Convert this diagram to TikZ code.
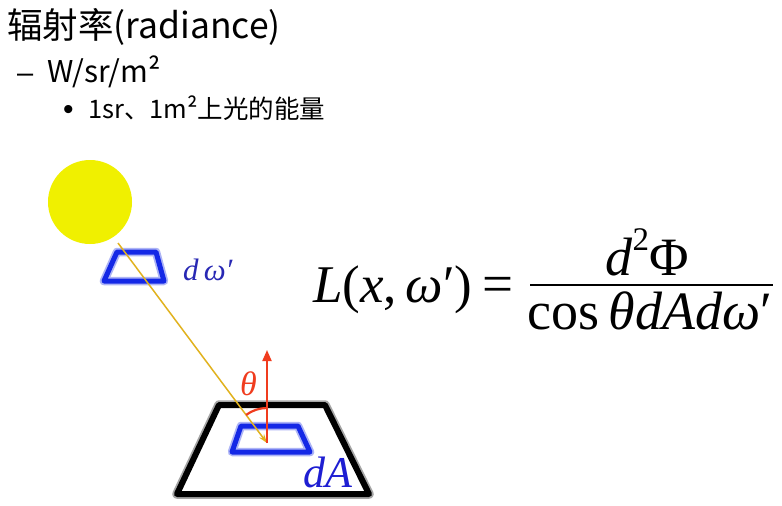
\documentclass[tikz,border=0pt]{standalone}
\usepackage{fontspec}
\setmainfont{Liberation Serif}
\newfontfamily\cjk{Noto Sans CJK SC}
\newfontfamily\bulletfont{Liberation Sans}
\usetikzlibrary{arrows.meta}
\definecolor{sunyellow}{RGB}{240,240,0}
\definecolor{rayc}{RGB}{225,178,30}
\definecolor{blueedge}{RGB}{20,40,230}
\definecolor{labelblue}{RGB}{40,40,180}
\definecolor{dablue}{RGB}{30,30,210}
\definecolor{redc}{RGB}{240,60,30}
\begin{document}
\begin{tikzpicture}[x=1pt,y=-1pt,
  txt/.style={inner sep=0pt, anchor=base west},
  bluequad/.style={draw=blueedge, line width=5pt, line join=round,
    preaction={draw=blueedge!35, line width=8.5pt, line join=round}},
  blackquad/.style={draw=black, line width=6pt, line join=round, fill=white,
    preaction={draw=black!35, line width=9.5pt, line join=round}},
  fml/.style={inner sep=0pt, font=\fontsize{54}{60}\selectfont}]
\useasboundingbox (0,0) rectangle (782,506);
\fill[white] (0,0) rectangle (782,506);

% text
\node[txt, font=\cjk\fontsize{35.5}{38}\selectfont] (title) at (7,38) {辐射率(radiance)};
\node[txt, font=\bulletfont\fontsize{29}{32}\selectfont] (dash) at (17,82) {–};
\node[txt, font=\cjk\fontsize{30}{32}\selectfont] (unit) at (47,82) {W/sr/m²};
\node[txt, font=\bulletfont\fontsize{30}{32}\selectfont] (bullet) at (63,119) {•};
\node[txt, font=\cjk\fontsize{25.5}{28}\selectfont] (desc) at (88,118) {1sr、1m²上光的能量};

% sun
\node[circle, fill=sunyellow, minimum size=84pt, inner sep=0pt] (sun) at (90,202) {};

% d omega patch
\draw[bluequad] (117,252) -- (156,252) -- (164,281) -- (104,281) -- cycle;
\node[txt, font=\fontsize{31}{33}\selectfont\itshape, text=labelblue] (domega) at (183,280) {d\,ω′};

% surface
\draw[blackquad] (219,405) -- (325,405) -- (369,494) -- (177,494) -- cycle;
\draw[bluequad] (241,426) -- (298,426) -- (310,452) -- (232,452) -- cycle;
\node[txt, font=\fontsize{44}{48}\selectfont\itshape, text=dablue] (dA) at (303,487) {dA};

% ray and normal
\coordinate (raystart) at (118,243);
\coordinate (p) at (267,443);
\coordinate (ntip) at (267,350);
\draw[rayc, line width=1.5pt, -{Stealth[length=9pt,width=6pt]}] (raystart) -- (p);
\draw[redc, line width=2pt, -{Triangle[length=11pt,width=9pt]}] (p) -- (ntip);
\draw[redc, line width=2.2pt] (p) ++(0pt,35pt) arc[start angle=90, end angle=126.7, radius=35pt];
\node[txt, font=\fontsize{34}{36}\selectfont\itshape, text=redc] (theta) at (240,395) {θ};

% formula
\node[fml, anchor=base west, font=\fontsize{53}{60}\selectfont] (lhs) at (313,302) {\textit{L}(\textit{x},\,\textit{ω}′)};
\node[fml, anchor=base east, font=\fontsize{55}{60}\selectfont] (eq) at (514,302) {=};
\node[fml, anchor=base] (num) at (647,275) {\textit{d}\raisebox{0.45em}{\fontsize{33}{35}\selectfont 2}Φ};
\coordinate (barl) at (530,285);
\coordinate (barr) at (773,285);
\draw[line width=2.5pt] (barl) -- (barr);
\node[fml, anchor=base] (den) at (650,329) {cos\,\textit{θdAdω}′};
\end{tikzpicture}
\end{document}
